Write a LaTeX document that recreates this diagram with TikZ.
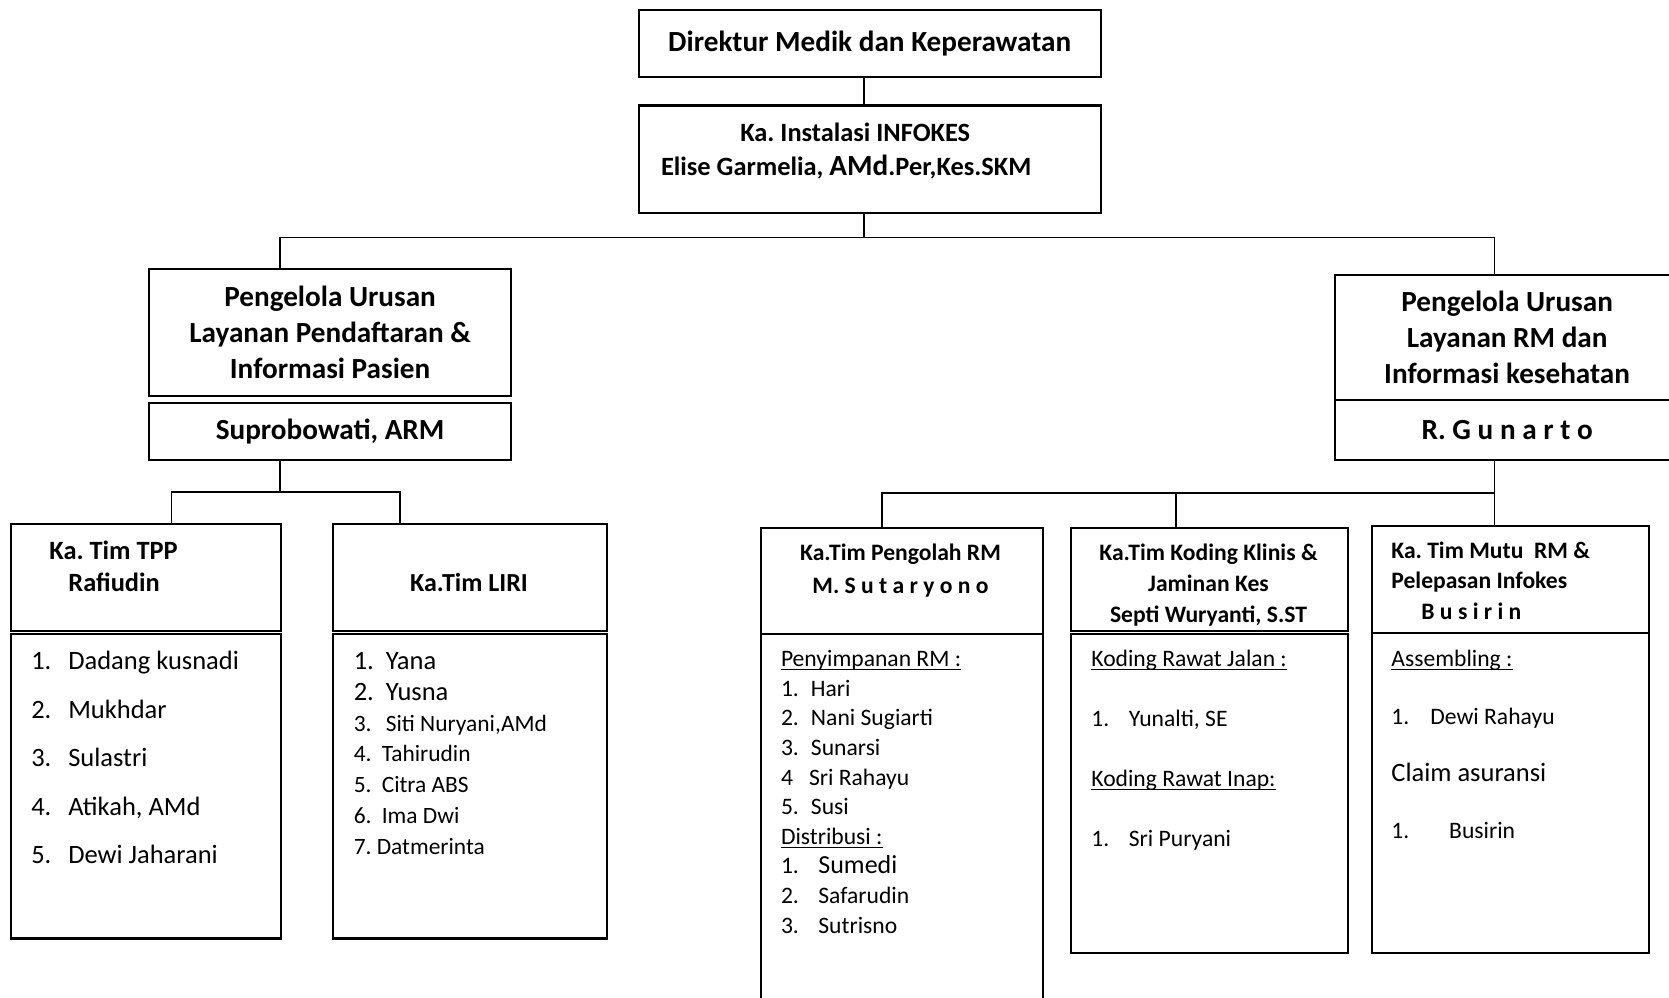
\documentclass[tikz,border=0pt]{standalone}
\usepackage{fontspec}
\setmainfont{Carlito}
\usetikzlibrary{positioning}

% number column and underlined list headings
\newcommand{\nr}[2]{\makebox[#1][l]{#2}}
\newcommand{\ulh}[1]{\underline{\smash{#1}}}
\newcommand{\smf}{\fontsize{11.7}{15.4}\selectfont}

\begin{document}
\frenchspacing
\begin{tikzpicture}[
    x=0.5pt, y=-0.5pt,
    orgbox/.style={draw, line width=1.1pt, inner sep=0pt, fill=white},
    bigbold/.style={font=\bfseries\fontsize{14.6}{17.9}\selectfont, align=center},
    teamhead/.style={inner sep=0pt, font=\bfseries\fontsize{11.8}{16.4}\selectfont},
    listtxt/.style={anchor=base west, inner sep=0pt, align=left},
    conn/.style={line width=0.8pt}
]
\useasboundingbox (0,0) rectangle (1669,997);
\clip (0,0) rectangle (1669,997);

% top of the chart
\node[orgbox, bigbold, anchor=north west, minimum width=231pt, minimum height=33.5pt] (direktur) at (637.6,8.5) {Direktur Medik dan Keperawatan};
\node[orgbox, below=13.3pt of direktur, minimum width=231pt, minimum height=53.75pt] (infokes) {};
\node[inner sep=0pt, yshift=4pt, font=\bfseries\fontsize{13.2}{17}\selectfont, align=center] (infokesTxt) at (infokes) {Ka. Instalasi INFOKES\hspace*{14.5pt}\\Elise Garmelia, {\fontsize{14.6}{17}\selectfont AMd}.Per,Kes.SKM\hspace*{23.5pt}};

\node[orgbox, bigbold, anchor=north west, minimum width=181pt, minimum height=63.5pt] (puDaftar) at (148,268) {Pengelola Urusan\\Layanan Pendaftaran \&\\Informasi Pasien};
\node[orgbox, bigbold, below=2.4pt of puDaftar, minimum width=181pt, minimum height=28.5pt] (supro) {Suprobowati, ARM};

\node[orgbox, anchor=north west, minimum width=172pt, minimum height=62.75pt, font=\bfseries\fontsize{14.6}{18}\selectfont, align=center] (puRM) at (1334,273.5) {Pengelola Urusan\\Layanan RM dan\\Informasi kesehatan};
\node[orgbox, bigbold, below=-1.1pt of puRM, minimum width=172pt, minimum height=30pt] (gunarto) {R. G u n a r t o};

% teams under Suprobowati (text nodes sit on the baseline of their last line)
\node[orgbox, anchor=north west, minimum width=135.2pt, minimum height=53.5pt] (tpp) at (9.6,522.6) {};
\node[teamhead, anchor=base west, align=left, font=\bfseries\fontsize{13.2}{16}\selectfont] (tppHead) at (49,591.4) {Ka. Tim TPP\\\hspace*{9.5pt}Rafiudin};
\node[orgbox, below=0.4pt of tpp, minimum width=135.2pt, minimum height=152.35pt] (tppList) {};
\node[listtxt, font=\fontsize{13.25}{24.3}\selectfont] (tppNames) at (30.9,863.9) {\nr{18.5pt}{1.}Dadang kusnadi\\\nr{18.5pt}{2.}Mukhdar\\\nr{18.5pt}{3.}Sulastri\\\nr{18.5pt}{4.}Atikah, AMd\\\nr{18.5pt}{5.}Dewi Jaharani};

\node[orgbox, anchor=north west, minimum width=136.85pt, minimum height=53.5pt] (liri) at (332,522.6) {};
\node[teamhead, anchor=base, font=\bfseries\fontsize{13}{16}\selectfont] (liriHead) at (469,591.4) {Ka.Tim LIRI};
\node[orgbox, below=0.4pt of liri, minimum width=136.85pt, minimum height=152.35pt] (liriList) {};
\node[listtxt, font=\fontsize{13.25}{15.4}\selectfont] (liriNames) at (353.4,854.3) {\nr{16pt}{1.}Yana\\\nr{16pt}{2.}Yusna\\{\smf\nr{16pt}{3.}Siti Nuryani,AMd}\\{\smf\nr{14pt}{4.}Tahirudin}\\{\smf\nr{14pt}{5.}Citra ABS}\\{\smf\nr{14pt}{6.}Ima Dwi}\\{\smf 7. Datmerinta}};

% teams under R. Gunarto
\node[orgbox, anchor=north west, minimum width=141pt, minimum height=53pt] (olah) at (760,527) {};
\node[teamhead, anchor=base, align=center, font=\bfseries\fontsize{11.8}{16.5}\selectfont] (olahHead) at (900.5,593.6) {Ka.Tim Pengolah RM\\M. S u t a r y o n o};
\node[orgbox, below=-1.1pt of olah, minimum width=141pt, minimum height=190pt] (olahList) {};
\node[listtxt, font=\fontsize{11.8}{14.8}\selectfont] (olahNames) at (780.6,933.1) {\ulh{Penyimpanan RM :}\\\nr{15pt}{1.}Hari\\\nr{15pt}{2.}Nani Sugiarti\\\nr{15pt}{3.}Sunarsi\\\nr{14pt}{4}Sri Rahayu\\\nr{15pt}{5.}Susi\\\ulh{Distribusi :}\\\nr{18.7pt}{1.}{\fontsize{13}{14.8}\selectfont Sumedi}\\\nr{18.7pt}{2.}Safarudin\\\nr{18.7pt}{3.}Sutrisno};

\node[orgbox, anchor=north west, minimum width=138.5pt, minimum height=51.5pt] (koding) at (1070,527) {};
\node[teamhead, anchor=base, align=center, font=\bfseries\fontsize{11.8}{15.6}\selectfont] (kodingHead) at (1208.5,622.6) {Ka.Tim Koding Klinis \&\\Jaminan Kes\\Septi Wuryanti, S.ST};
\node[orgbox, below=0.4pt of koding, minimum width=138.5pt, minimum height=159.5pt] (kodingList) {};
\node[listtxt, font=\fontsize{11.8}{30}\selectfont] (kodingNames) at (1091,846.7) {\ulh{Koding Rawat Jalan :}\\\nr{18.75pt}{1.}Yunalti, SE\\\ulh{Koding Rawat Inap:}\\\nr{18.75pt}{1.}Sri Puryani};

\node[orgbox, anchor=north west, minimum width=138.5pt, minimum height=53.5pt] (mutu) at (1371,525) {};
\node[teamhead, anchor=base west, align=left, font=\bfseries\fontsize{11.8}{15.4}\selectfont] (mutuHead) at (1391,619.6) {Ka. Tim Mutu\ \ RM \&\\Pelepasan Infokes\\\hspace*{15pt}B u s i r i n};
\node[orgbox, below=-1.1pt of mutu, minimum width=138.5pt, minimum height=160pt] (mutuList) {};
\node[listtxt, font=\fontsize{11.8}{28.7}\selectfont] (mutuNames) at (1391,838.8) {\ulh{Assembling :}\\\nr{19.5pt}{1.}Dewi Rahayu\\{\fontsize{13.25}{28.7}\selectfont Claim asuransi}\\\nr{28.9pt}{1.}Busirin};

% connectors
\coordinate (barL) at (280,237.4);
\coordinate (barM) at (864,237.4);
\coordinate (barR) at (1494.4,237.4);
\coordinate (jL) at (280,491.7);
\coordinate (jL1) at (171.4,491.7);
\coordinate (jL2) at (400.2,491.7);
\coordinate (jR) at (1494.4,492.7);
\coordinate (jR1) at (882,492.7);
\coordinate (jR2) at (1176,492.7);

\draw[conn] (direktur.south -| barM) -- (infokes.north -| barM);
\draw[conn] (infokes.south -| barM) -- (barM);
\draw[conn] (puDaftar.north -| barL) -- (barL) -- (barR) -- (puRM.north -| barR);
\draw[conn] (supro.south -| jL) -- (jL);
\draw[conn] (tpp.north -| jL1) -- (jL1) -- (jL2) -- (liri.north -| jL2);
\draw[conn] (gunarto.south -| jR) -- (mutu.north -| jR);
\draw[conn] (olah.north -| jR1) -- (jR1) -- (jR);
\draw[conn] (jR2) -- (koding.north -| jR2);
\end{tikzpicture}
\end{document}
